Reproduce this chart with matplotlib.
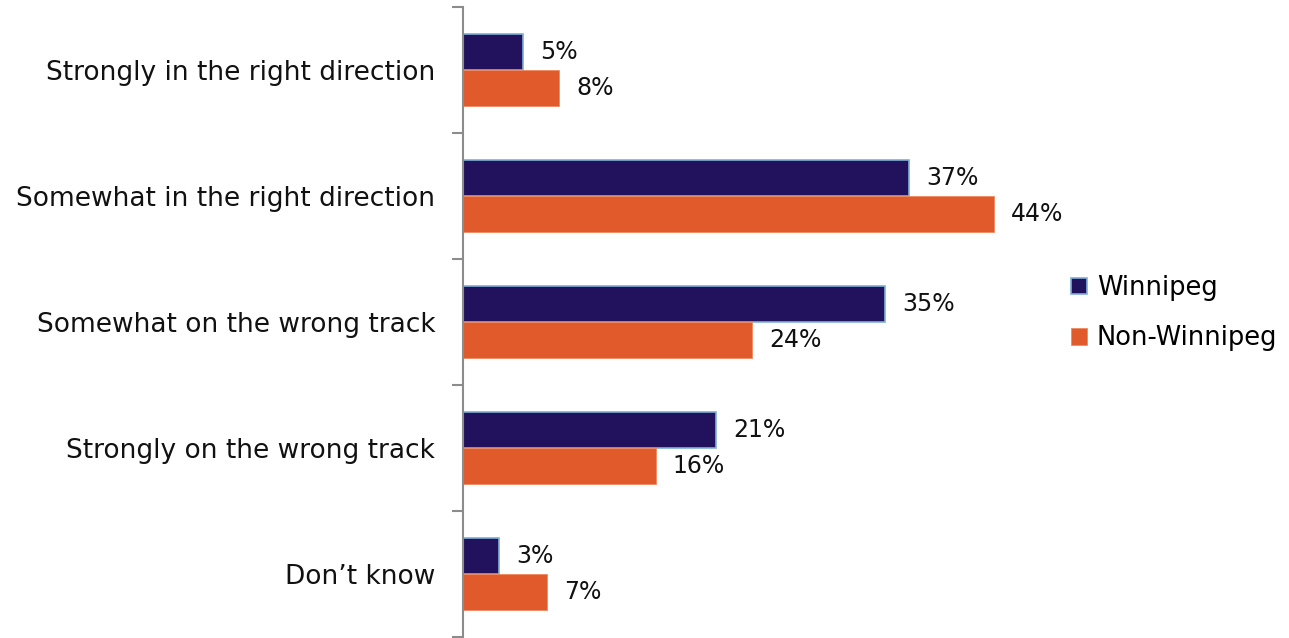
import matplotlib.pyplot as plt
import numpy as np

categories = ["Strongly in the right direction", "Somewhat in the right direction",
              "Somewhat on the wrong track", "Strongly on the wrong track", "Don\u2019t know"]
winnipeg = [5, 37, 35, 21, 3]
non_winnipeg = [8, 44, 24, 16, 7]

navy = "#22125E"
orange = "#E05A2B"

fig = plt.figure(figsize=(12.89, 6.38), dpi=100)
ax = fig.add_axes([463/1289, 1/638, 603/1289, 630/638])

y = np.arange(len(categories))
h = 0.285
ax.barh(y - h/2, winnipeg, h, color=navy, edgecolor="#7FB0D4", linewidth=1.2, label="Winnipeg")
ax.barh(y + h/2, non_winnipeg, h, color=orange, edgecolor="#F08A60", linewidth=0.6, label="Non-Winnipeg")

for i in range(len(categories)):
    ax.text(winnipeg[i] + 1.4, y[i] - h/2, f"{winnipeg[i]}%", va="center", ha="left", fontsize=17, color="#111111")
    ax.text(non_winnipeg[i] + 1.4, y[i] + h/2, f"{non_winnipeg[i]}%", va="center", ha="left", fontsize=17, color="#111111")

ax.set_xlim(0, 50)
ax.set_ylim(len(categories) - 0.5, -0.5)
ax.set_yticks(y)
ax.set_yticklabels(categories, fontsize=19, color="#111111")
ax.tick_params(axis="y", which="major", length=0, pad=20)
ax.set_yticks(np.arange(-0.5, len(categories)), minor=True)
ax.tick_params(axis="y", which="minor", length=8, color="#8C8C8C", width=1.5)
ax.set_xticks([])
for s in ["top", "right", "bottom"]:
    ax.spines[s].set_visible(False)
ax.spines["left"].set_color("#8C8C8C")
ax.spines["left"].set_linewidth(1.5)

fig.legend(loc="center left", bbox_to_anchor=(1048/1289, 0.509), frameon=False, fontsize=18.5,
           handlelength=0.6, handleheight=0.6, handletextpad=0.4, labelspacing=0.95)

fig.savefig("out.png", dpi=100)
